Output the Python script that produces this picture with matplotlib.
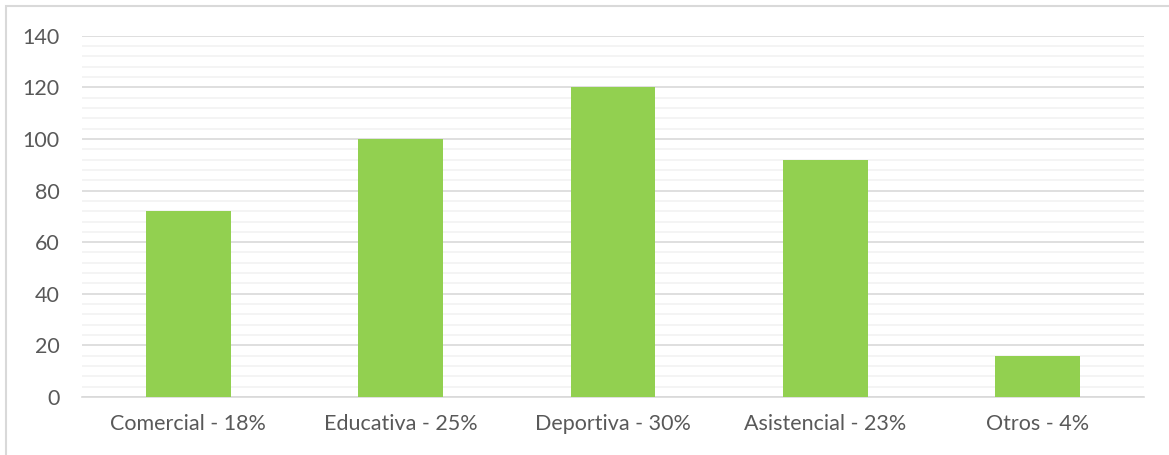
import matplotlib
matplotlib.use("Agg")
import matplotlib.pyplot as plt
from matplotlib.patches import Rectangle
from matplotlib.ticker import MultipleLocator

categories = ["Comercial - 18%", "Educativa - 25%", "Deportiva - 30%", "Asistencial - 23%", "Otros - 4%"]
values = [72, 100, 120, 92, 16]

plt.rcParams['font.family'] = ['Lato', 'DejaVu Sans']

fig = plt.figure(figsize=(11.69, 4.55), dpi=100)
ax = fig.add_axes([82/1169, 1 - 397/455, (1144-82)/1169, (397-35.7)/455])

x = list(range(len(categories)))
ax.bar(x, values, width=0.4, color="#92D050", zorder=3)
ax.set_xlim(-0.5, len(categories) - 0.5)
ax.set_ylim(0, 140)
ax.yaxis.set_major_locator(MultipleLocator(20))
ax.yaxis.set_minor_locator(MultipleLocator(4))
ax.grid(which="major", axis="y", color="#D9D9D9", linewidth=1.2, zorder=0)
ax.grid(which="minor", axis="y", color="#F2F2F2", linewidth=1.2, zorder=0)
ax.set_xticks(x)
ax.set_xticklabels(categories)
for s in ["top", "right", "left"]:
    ax.spines[s].set_visible(False)
ax.spines["bottom"].set_color("#D9D9D9")
ax.spines["bottom"].set_linewidth(1.2)
ax.tick_params(axis="both", which="both", length=0, labelsize=15.5, colors="#595959")
ax.tick_params(axis="y", pad=16)
ax.tick_params(axis="x", pad=12)

fig.patches.append(Rectangle((6/1169, -0.1), 1.2, 1 - 6/455 + 0.1, transform=fig.transFigure,
                             fill=False, edgecolor="#D9D9D9", linewidth=1.5))

fig.savefig("out.png", dpi=100)
